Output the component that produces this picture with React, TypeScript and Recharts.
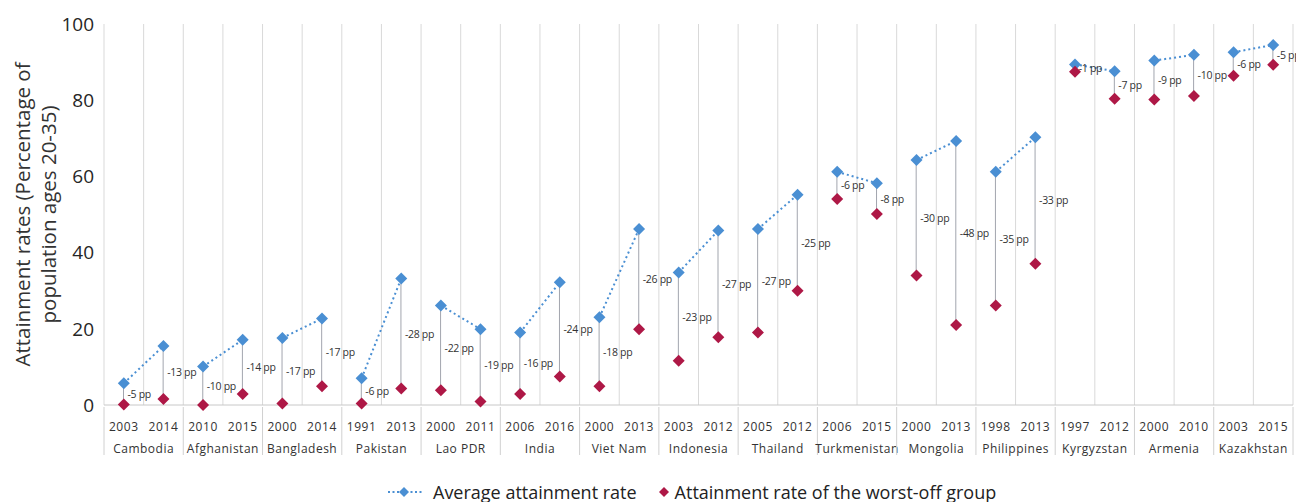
import { ComposedChart, Bar, Line, XAxis, YAxis, CartesianGrid, LabelList } from 'recharts';

const countryList = [
  'Cambodia', 'Afghanistan', 'Bangladesh', 'Pakistan', 'Lao PDR', 'India', 'Viet Nam', 'Indonesia',
  'Thailand', 'Turkmenistan', 'Mongolia', 'Philippines', 'Kyrgyzstan', 'Armenia', 'Kazakhstan',
];
const years = [
  '2003', '2014', '2010', '2015', '2000', '2014', '1991', '2013',
  '2000', '2011', '2006', '2016', '2000', '2013', '2003', '2012',
  '2005', '2012', '2006', '2015', '2000', '2013', '1998', '2013',
  '1997', '2012', '2000', '2010', '2003', '2015',
];
const average = [
  5.7, 15.5, 10.1, 17.1, 17.6, 22.7, 7.0, 33.2,
  26.1, 19.9, 19.0, 32.2, 23.0, 46.2, 34.8, 45.8,
  46.2, 55.2, 61.2, 58.2, 64.3, 69.3, 61.2, 70.3,
  89.4, 87.6, 90.4, 91.9, 92.6, 94.5,
];
const worstOff = [
  0.1, 1.6, 0.0, 2.9, 0.4, 4.9, 0.4, 4.3,
  3.9, 0.9, 2.9, 7.5, 4.9, 19.9, 11.6, 17.8,
  19.0, 30.0, 54.1, 50.1, 34.0, 21.0, 26.1, 37.1,
  87.5, 80.4, 80.2, 81.1, 86.4, 89.3,
];
const gapLabels = [
  -5, -13, -10, -14, -17, -17, -6, -28,
  -22, -19, -16, -24, -18, -26, -23, -27,
  -27, -25, -6, -8, -30, -48, -35, -33,
  -1, -7, -9, -10, -6, -5,
];

const data = years.map((year, i) => ({
  year,
  country: countryList[Math.floor(i / 2)],
  avg: average[i],
  worst: worstOff[i],
  gap: gapLabels[i],
}));

const BLUE = '#4a8fd3';
const RED = '#ae1846';
const FONT = '"Open Sans", sans-serif';

const diamondPath = (cx: number, cy: number, r: number) =>
  `M${cx},${cy - r}L${cx + r},${cy}L${cx},${cy + r}L${cx - r},${cy}Z`;

const makeDot = (fill: string, r: number) => (p: any) => {
  if (p.cx == null || p.cy == null || p.value == null) return <g key={p.index} />;
  return <path key={p.index} d={diamondPath(p.cx, p.cy, r)} fill={fill} />;
};

const YearTick = (p: any) => (
  <text x={p.x} y={p.y + 21} textAnchor="middle" dominantBaseline="central"
    fontSize={12} fill="#333" fontFamily={FONT} letterSpacing={0.6}>
    {p.payload.value}
  </text>
);

// country row: label plus the group separators that run through both label rows
const CountryTick = (p: any) => {
  const bw = p.width / p.visibleTicksCount;
  const left = p.x - bw / 2;
  const right = p.x + bw / 2;
  const last = p.index === p.visibleTicksCount - 1;
  return (
    <g>
      <line x1={left} x2={left} y1={p.y - 20} y2={p.y + 28} stroke="#d0d0d0" />
      {last && <line x1={right} x2={right} y1={p.y - 20} y2={p.y + 28} stroke="#d0d0d0" />}
      <text x={p.x} y={p.y + 21} textAnchor="middle" dominantBaseline="central"
        fontSize={12} fill="#333" fontFamily={FONT} letterSpacing={0.5}>
        {p.payload.value}
      </text>
    </g>
  );
};

const GapLabel = (p: any) => {
  const h = Math.abs(p.height);
  const top = Math.min(p.y, p.y + p.height);
  return (
    <text x={p.x + p.width / 2 + 4} y={top + h / 2} dominantBaseline="central"
      fontSize={10.5} fill="#333" fontFamily={FONT} letterSpacing={-0.3}>
      {`${p.value} pp`}
    </text>
  );
};

const YLabel = (p: any) => {
  const vb = p.viewBox;
  const cy = vb.y + vb.height / 2;
  return (
    <g fontFamily={FONT} fontSize={20.5} fill="#333">
      <text transform={`translate(14, ${cy}) rotate(-90)`} textAnchor="middle" dominantBaseline="central">
        Attainment rates (Percentage of
      </text>
      <text transform={`translate(40, ${cy}) rotate(-90)`} textAnchor="middle" dominantBaseline="central">
        population ages 20-35)
      </text>
    </g>
  );
};

export default function App() {
  return (
    <div style={{ position: 'relative', width: 1296, height: 494, fontFamily: FONT }}>
      <ComposedChart width={1296} height={449} data={data}
        margin={{ top: 16, right: 11, left: 0, bottom: 0 }}>
        <CartesianGrid horizontal={false} stroke="#d9d9d9" xAxisId={0}
          verticalCoordinatesGenerator={({ offset }: any) =>
            data.map((_, i) => offset.left + (i * offset.width) / data.length).concat(offset.left + offset.width)} />
        <XAxis xAxisId={0} dataKey="year" height={22} tickLine={false} tickSize={0} tickMargin={0}
          axisLine={{ stroke: '#c8c8c8' }} tick={<YearTick />} interval={0} />
        <XAxis xAxisId={1} dataKey="country" allowDuplicatedCategory={false} height={30}
          tickLine={false} tickSize={0} tickMargin={0} axisLine={false} tick={<CountryTick />} interval={0} />
        <YAxis domain={[0, 100]} ticks={[0, 20, 40, 60, 80, 100]} width={96} tickLine={false}
          axisLine={false} tickSize={0} tickMargin={10}
          tick={{ fontSize: 19, fill: '#262626', fontFamily: FONT }}
          label={{ content: <YLabel /> }} />
        <Bar xAxisId={0} dataKey={(d: any) => [d.worst, d.avg]} barSize={1} fill="#a2a5ae"
          isAnimationActive={false}>
          <LabelList dataKey="gap" content={<GapLabel />} />
        </Bar>
        {countryList.map((c) => (
          <Line key={c} xAxisId={0} dataKey={(d: any) => (d.country === c ? d.avg : null)}
            stroke={BLUE} strokeWidth={2} strokeDasharray="2 3" dot={false} activeDot={false}
            connectNulls={false} isAnimationActive={false} />
        ))}
        <Line xAxisId={0} dataKey="avg" stroke="none" strokeWidth={0} dot={makeDot(BLUE, 6)}
          activeDot={false} isAnimationActive={false} />
        <Line xAxisId={0} dataKey="worst" stroke="none" strokeWidth={0} dot={makeDot(RED, 6)}
          activeDot={false} isAnimationActive={false} />
      </ComposedChart>
      <div style={{ position: 'absolute', left: 379, top: 472, display: 'flex', alignItems: 'center',
        fontSize: 18, color: '#222', whiteSpace: 'nowrap' }}>
        <svg width={36} height={14} style={{ marginRight: 10 }}>
          <line x1={1} x2={35} y1={7} y2={7} stroke={BLUE} strokeWidth={2} strokeDasharray="2 2.5" />
          <path d={diamondPath(17, 7, 5)} fill={BLUE} />
        </svg>
        <span>Average attainment rate</span>
        <svg width={14} height={14} style={{ marginLeft: 20, marginRight: 4 }}>
          <path d={diamondPath(7, 7, 5)} fill={RED} />
        </svg>
        <span>Attainment rate of the worst-off group</span>
      </div>
    </div>
  );
}
